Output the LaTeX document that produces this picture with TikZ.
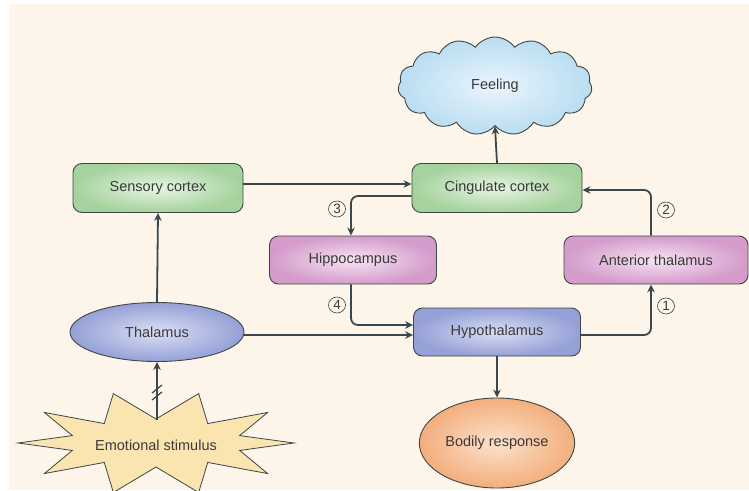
\documentclass[tikz,border=0pt]{standalone}
\usepackage{fontspec}
\setmainfont{Liberation Sans}
\usetikzlibrary{positioning}
\usetikzlibrary{shapes.geometric}
\usetikzlibrary{shapes.symbols}
\usetikzlibrary{arrows.meta}
\definecolor{cream}{HTML}{FEF5EA}
\definecolor{edgegrey}{HTML}{3E4646}
\definecolor{arrowgrey}{HTML}{3A474C}
\definecolor{txtgrey}{HTML}{3A3A3A}
\definecolor{greenout}{HTML}{A6D29E}
\definecolor{greenin}{HTML}{E6F5E2}
\definecolor{pinkout}{HTML}{D49BCB}
\definecolor{pinkin}{HTML}{F6E4F2}
\definecolor{blueout}{HTML}{95A0D6}
\definecolor{bluein}{HTML}{DADFF5}
\definecolor{orangeout}{HTML}{F3AE7C}
\definecolor{orangein}{HTML}{FCE2CC}
\definecolor{cloudout}{HTML}{B9DDF1}
\definecolor{cloudin}{HTML}{EAF5FC}
\definecolor{burstfill}{HTML}{FAE4B0}
\tikzset{
every box/.style={ % shared look of the region boxes
draw=edgegrey,
line width=0.9pt,
font=\fontsize{14.5}{17}\selectfont,
text=txtgrey},
cortex/.style={every box, rounded corners=9pt, minimum width=170pt, minimum height=49pt,
shade, inner color=greenin, outer color=greenout},
limbic/.style={every box, rounded corners=9pt, minimum height=48pt,
shade, inner color=pinkin, outer color=pinkout},
hypo/.style={every box, rounded corners=9pt, minimum width=167pt, minimum height=48pt,
shade, inner color=bluein, outer color=blueout},
conn/.style={ % connectors between regions
draw=arrowgrey,
line width=1.8pt,
rounded corners=7pt,
-{Stealth[length=8pt,width=7.5pt]}},
numlabel/.style={ellipse, draw=txtgrey, fill=cream, line width=0.6pt,
inner sep=0pt, minimum width=17pt, minimum height=16pt, text=txtgrey,
font=\fontsize{13.5}{14}\selectfont}}

\begin{document}
\begin{tikzpicture}[x=1pt,y=-1pt]
	\useasboundingbox (0,0) rectangle (749,490);
	\fill[white] (0,0) rectangle (749,490);
	\fill[cream] (9,4) rectangle (749,490);
	% emotional stimulus burst
	\draw[edgegrey, line width=0.8pt, fill=burstfill] (294,443)
		\foreach \i in {1,...,19}{
			-- ({156+ifthenelse(isodd(\i),88,138)*cos(\i*18)}, {443-ifthenelse(isodd(\i),24,52)*sin(\i*18)})
		} -- cycle;
	\node[font=\fontsize{14.5}{17}\selectfont, text=txtgrey] (stim) at (156,445) {Emotional stimulus};
	\coordinate (stimtop) at (157,420);
	% regions
	\node[cortex] (sens) at (158,188) {Sensory cortex};
	\node[cortex] (cing) at (497,188) {Cingulate cortex};
	\node[cloud, cloud puffs=15, cloud puff arc=110, aspect=1.9, minimum width=194pt, minimum height=98pt,
		every box, shade, inner color=cloudin, outer color=cloudout] (feel) at (495,86) {Feeling};
	\node[limbic, minimum width=167pt] (hipp) at (353,260) {Hippocampus};
	\node[limbic, minimum width=184pt] (ant) at (656,260) {Anterior thalamus};
	\node[ellipse, every box, minimum width=174pt, minimum height=59pt,
		shade, inner color=bluein, outer color=blueout] (thal) at (157,332) {Thalamus};
	\node[hypo] (hyp) at (497,332) {Hypothalamus};
	\node[ellipse, every box, minimum width=138pt, minimum height=90pt,
		shade, inner color=orangein, outer color=orangeout] (body) at (497,443) {Bodily response};
	% connectors
	\draw[conn] (stimtop) -- (thal.south);
	\draw[arrowgrey, line width=1.2pt] (152,393) -- (162,385) (152,400) -- (162,392);
	\draw[conn] (thal.north) -- (sens.south);
	\draw[conn] ([yshift=4pt]sens.east) -- ([yshift=4pt]cing.west);
	\draw[conn] (cing.north) -- (feel.south);
	\draw[conn] ([yshift=-3pt]thal.east) -- ([yshift=-3pt]hyp.west);
	\draw[conn] ([yshift=-3pt]hyp.east) -| ([xshift=-5pt]ant.south);
	\draw[conn] ([xshift=-5pt]ant.north) |- ([yshift=-2pt]cing.east);
	\draw[conn] ([yshift=-8pt]cing.west) -| ([xshift=-2pt]hipp.north);
	\draw[conn] ([xshift=-2pt]hipp.south) |- ([yshift=7pt]hyp.west);
	\draw[conn] (hyp.south) -- (body.north);
	% step numbers
	\node[numlabel] (n1) at (666,306) {1};
	\node[numlabel] (n2) at (666,210) {2};
	\node[numlabel] (n3) at (337,209) {3};
	\node[numlabel] (n4) at (337,305) {4};
\end{tikzpicture}
\end{document}
